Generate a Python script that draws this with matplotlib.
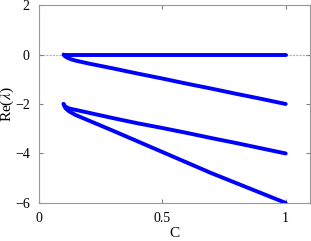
import matplotlib
matplotlib.use("Agg")
from matplotlib import pyplot as plt

plt.rcParams["font.family"] = "Liberation Serif"
plt.rcParams["mathtext.fontset"] = "stix"

# eigenvalue branches, Re(lambda) vs C
c = [0.1, 0.105, 0.11, 0.12, 0.13, 0.15, 0.2, 0.3, 0.4, 0.5, 0.6, 0.7, 0.8, 0.9, 1.0]
re1 = [0.0] * len(c)
re2 = [0.0, -0.06, -0.10, -0.15, -0.19, -0.25, -0.36, -0.56, -0.77, -0.97, -1.18, -1.38, -1.59, -1.79, -2.0]
re3 = [-2.0, -2.08, -2.12, -2.17, -2.20, -2.24, -2.35, -2.57, -2.78, -2.97, -3.17, -3.38, -3.58, -3.79, -4.0]
re4 = [-2.0, -2.12, -2.19, -2.28, -2.34, -2.45, -2.66, -3.08, -3.51, -3.94, -4.37, -4.80, -5.20, -5.60, -6.0]

fig = plt.figure(figsize=(3.11, 2.41), dpi=100)
ax = fig.add_axes([0.125, 0.158, 0.873, 0.821])

ax.axhline(0, color="0.7", lw=0.8, ls=(0, (2, 1)), zorder=1)
for re in (re1, re2, re3, re4):
    ax.plot(c, re, "-", color="#0000ff", lw=2.8, solid_capstyle="round", zorder=2)

ax.set(xlim=(0, 1.1), ylim=(-6, 2))
ax.set_xticks([0, 0.5, 1])
ax.set_xticklabels(["0", "0.5", "1"])
ax.set_yticks([2, 0, -2, -4, -6])
ax.tick_params(direction="in", top=True, right=True, length=3, color="0.5",
               labelsize=10, pad=6.5)
for s in ax.spines.values():
    s.set_color("0.6")
    s.set_linewidth(0.8)
ax.set_xlabel("C", fontsize=11)
ax.xaxis.set_label_coords(0.5, -0.122)
ax.set_ylabel(r"Re($\lambda$)", fontsize=11)
ax.yaxis.set_label_coords(-0.083, 0.5)

fig.savefig("out.png", dpi=100)
